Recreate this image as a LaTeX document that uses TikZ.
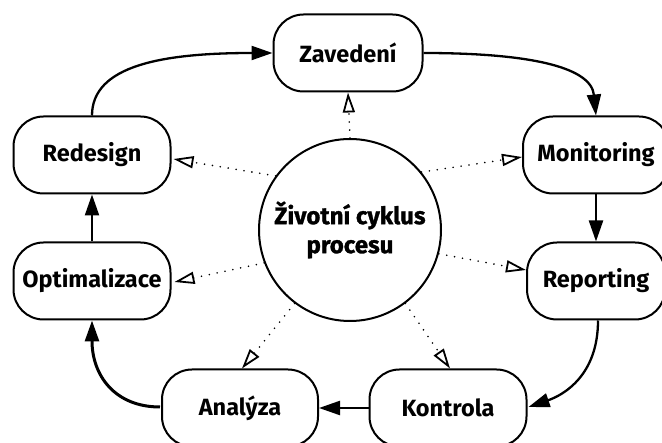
\documentclass[tikz,border=0pt]{standalone}
\usepackage{fontspec}
\setmainfont{Fira Sans}
\newfontfamily\hubfont{Fira Sans}[BoldFeatures={FakeBold=1.2}]
\usetikzlibrary{arrows.meta,calc}
\begin{document}
\begin{tikzpicture}[x=1pt,y=-1pt,
  stage/.style={draw, line width=2pt, rounded corners=30pt, minimum height=77pt,
    inner sep=0pt, font=\bfseries\fontsize{23.5}{27}\selectfont},
  hub/.style={draw, circle, line width=2pt, minimum size=182pt, inner sep=0pt,
    align=center, font=\hubfont\bfseries\fontsize{24}{29}\selectfont},
  flow/.style={line width=2.3pt, -{Triangle[length=21pt,width=14pt]}},
  heavyflow/.style={flow, line width=3pt},
  link/.style={line width=1.8pt, line cap=round, dash pattern=on 0pt off 8pt,
    -{Triangle[open,length=20pt,width=12pt,line width=1.8pt]}}]
\useasboundingbox (0,0) rectangle (662,443);

% process stages
\node[stage, minimum width=149pt] (Zavedeni)     at (348,53)  {Zavedení};
\node[stage, minimum width=146pt] (Monitoring)   at (596,155) {Monitoring};
\node[stage, minimum width=138pt] (Reporting)    at (596,281) {Reporting};
\node[stage, minimum width=157pt] (Kontrola)     at (448,408) {Kontrola};
\node[stage, minimum width=156pt] (Analyza)      at (240,408) {Analýza};
\node[stage, minimum width=157pt] (Optimalizace) at (92,281)  {Optimalizace};
\node[stage, minimum width=157pt] (Redesign)     at (92,155)  {Redesign};

% centre of the cycle
\node[hub] (hub) at (350,230) {Životní cyklus\\procesu};

% the cycle itself
\draw[flow] (Redesign.north) .. controls +(0,-50) and +(-110,0) .. (Zavedeni.west);
\draw[flow] (Zavedeni.east) .. controls +(100,0) and +(-5,-50) .. (Monitoring.north);
\draw[flow] (Monitoring) -- (Reporting);
\draw[flow] ($(Reporting.south)+(2,0)$) .. controls +(0,55) and +(35,-12) .. ($(Kontrola.east)+(1,-1)$);
\draw[flow] (Kontrola) -- (Analyza);
\draw[heavyflow] ($(Analyza.west)+(-1,-1)$) .. controls +(-45,0) and +(0,55) .. (Optimalizace.south);
\draw[flow] (Optimalizace) -- (Redesign);

% links from the centre to every stage
\draw[link] (hub.90)  -- (Zavedeni.south);
\draw[link] (hub.144) -- ($(Redesign.east)+(2,4)$);
\draw[link] (hub.39)  -- ($(Monitoring.west)+(0,2)$);
\draw[link] (hub.-15) -- ($(Reporting.west)+(0,-11)$);
\draw[link] (hub.201) -- ($(Optimalizace.east)+(3,1)$);
\draw[link] (hub.233) -- ($(Analyza.north)+(2,0)$);
\draw[link] (hub.307) -- ($(Kontrola.north)+(2,0)$);
\end{tikzpicture}
\end{document}
